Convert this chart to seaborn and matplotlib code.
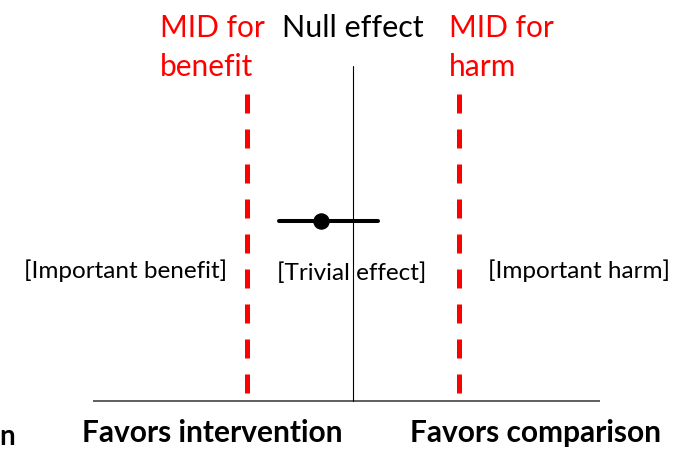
import matplotlib
matplotlib.use("Agg")
import matplotlib.pyplot as plt
import seaborn as sns
import pandas as pd

# effect scale (null = 0, minimal important difference = +/-0.5)
null_effect = 0.0
mid_benefit = -0.5
mid_harm = 0.5
estimate = -0.15
ci_low, ci_high = -0.35, 0.12

region_labels = ["[Important benefit]", "[Trivial effect]", "[Important harm]"]
favor_labels = ["Favors intervention", "Favors comparison"]

FONT = "Lato"
RED = "#ff0000"

sns.set_theme(style="white")
plt.rcParams["font.family"] = [FONT, "DejaVu Sans"]
plt.rcParams["text.color"] = "black"

W, H = 685, 452
fig = plt.figure(figsize=(W / 100, H / 100), dpi=100)
ax = fig.add_axes([0, 0, 1, 1])

# 1 effect unit = 212 px, null at x=353 px
scale = 212.0
x0 = 353.0
ax.set_xlim(-x0 / scale, (W - x0) / scale)
ax.set_ylim(H, 0)  # y in pixel rows, top down
ax.axis("off")

def xp(p):
    # pixel column -> effect units (for text placement only)
    return (p - x0) / scale

# bottom axis line
ax.plot([xp(93), xp(600)], [402, 402], color="#333333", lw=1.1, solid_capstyle="butt")
# null line
ax.plot([null_effect, null_effect], [67, 402], color="black", lw=0.8)

# MID dashed lines
for m in (mid_benefit, mid_harm):
    ax.plot([m, m], [95, 397], color=RED, lw=3.6, dashes=(3.8, 3.2), dash_capstyle="butt")

# confidence interval + point estimate
ci_df = pd.DataFrame({"x": [ci_low, ci_high], "y": [222, 222]})
sns.lineplot(data=ci_df, x="x", y="y", color="black", lw=2.9, ax=ax, sort=False)
pt_df = pd.DataFrame({"x": [estimate], "y": [222]})
sns.scatterplot(data=pt_df, x="x", y="y", color="black", s=120, edgecolor="black", ax=ax, zorder=5)
ax.set_xlabel("")
ax.set_ylabel("")

# header labels
ax.text(xp(160), 14, "MID for\nbenefit", color=RED, fontsize=21.5, va="top", ha="left", linespacing=1.5)
ax.text(xp(282), 14, "Null effect", color="black", fontsize=22, va="top", ha="left")
ax.text(xp(449), 14, "MID for\nharm", color=RED, fontsize=21.5, va="top", ha="left", linespacing=1.5)

# region labels
ax.text(xp(126), 271, region_labels[0], fontsize=17.5, ha="center", va="center")
ax.text(xp(352), 273, region_labels[1], fontsize=17.5, ha="center", va="center")
ax.text(xp(579), 271, region_labels[2], fontsize=17.5, ha="center", va="center")

# favors labels
ax.text(xp(212), 433, favor_labels[0], fontsize=21.5, fontweight="bold", ha="center", va="center")
ax.text(xp(535), 433, favor_labels[1], fontsize=21.5, fontweight="bold", ha="center", va="center")
ax.text(xp(-1), 437, "n", fontsize=20, fontweight="bold", ha="left", va="center")

fig.savefig("out.png", dpi=100)
